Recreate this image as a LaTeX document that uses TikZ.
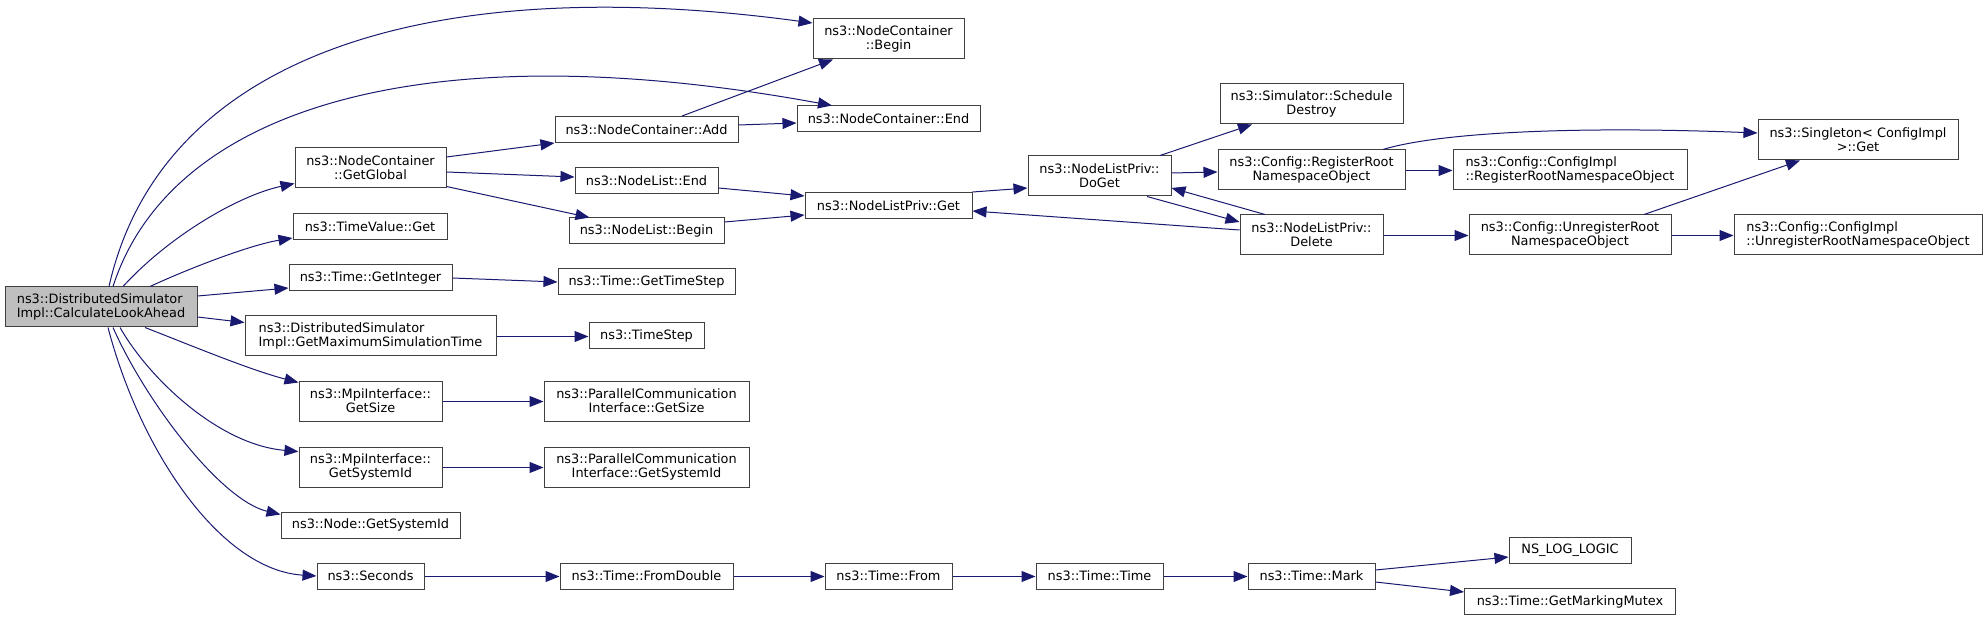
\documentclass[tikz,border=0pt]{standalone}
\usepackage{fontspec}
\setmainfont{DejaVu Sans}
\usetikzlibrary{arrows.meta,calc}
\definecolor{edgeblue}{HTML}{191970}
\definecolor{boxline}{HTML}{404040}
\definecolor{rootgray}{HTML}{BFBFBF}
\newcommand{\graphfont}{\fontsize{6.45pt}{7.15pt}\selectfont}

\begin{document}
\begin{tikzpicture}[x=0.5pt, y=-0.5pt, >={Triangle[length=7pt,width=5.5pt]},
  fn/.style={draw=boxline, fill=white, line width=0.5pt, inner sep=0pt, font=\graphfont, align=center, minimum height=13pt},
  fn2/.style={fn, minimum height=20pt},
  wd/.style={minimum width=#1*0.5pt},
  call/.style={edgeblue, line width=0.5pt, ->}]
\useasboundingbox (0,0) rectangle (1987,620);
\node[fn2, wd=192, fill=rootgray, align=left] (root) at (101,307) {ns3::DistributedSimulator\\Impl::CalculateLookAhead};
\node[fn2, wd=151] (gglobal) at (370.5,168) {ns3::NodeContainer\\::GetGlobal};
\node[fn, wd=154] (tvget) at (370,226.5) {ns3::TimeValue::Get};
\node[fn, wd=163] (getint) at (370.5,277.5) {ns3::Time::GetInteger};
\node[fn2, wd=251, align=left] (getmax) at (370.5,336) {ns3::DistributedSimulator\\Impl::GetMaximumSimulationTime};
\node[fn2, wd=143] (mpisize) at (370.5,401) {ns3::MpiInterface::\\GetSize};
\node[fn2, wd=143] (mpisys) at (370.5,467) {ns3::MpiInterface::\\GetSystemId};
\node[fn, wd=179] (nodesys) at (370.5,525) {ns3::Node::GetSystemId};
\node[fn, wd=107] (seconds) at (370.5,576) {ns3::Seconds};
\node[fn, wd=183] (ncadd) at (646.5,129.5) {ns3::NodeContainer::Add};
\node[fn, wd=143] (nlend) at (646.5,180.5) {ns3::NodeList::End};
\node[fn, wd=155] (nlbegin) at (646.5,231) {ns3::NodeList::Begin};
\node[fn, wd=177] (gettimestep) at (646.5,281.5) {ns3::Time::GetTimeStep};
\node[fn, wd=115] (timestep) at (646.5,336) {ns3::TimeStep};
\node[fn2, wd=205] (pcsize) at (646.5,401) {ns3::ParallelCommunication\\Interface::GetSize};
\node[fn2, wd=205] (pcsys) at (646.5,467) {ns3::ParallelCommunication\\Interface::GetSystemId};
\node[fn, wd=173] (fromdouble) at (646.5,576) {ns3::Time::FromDouble};
\node[fn2, wd=151] (ncbegin) at (888.5,39) {ns3::NodeContainer\\::Begin};
\node[fn, wd=183] (ncend) at (888.5,119) {ns3::NodeContainer::End};
\node[fn, wd=167] (nlpget) at (888.5,205.5) {ns3::NodeListPriv::Get};
\node[fn, wd=127] (from) at (888.5,576) {ns3::Time::From};
\node[fn2, wd=143] (doget) at (1099.5,176) {ns3::NodeListPriv::\\DoGet};
\node[fn, wd=127] (time) at (1099.5,576) {ns3::Time::Time};
\node[fn2, wd=183] (sched) at (1311.5,104) {ns3::Simulator::Schedule\\Destroy};
\node[fn2, wd=187] (regroot) at (1311.5,170) {ns3::Config::RegisterRoot\\NamespaceObject};
\node[fn2, wd=143] (delete) at (1311.5,235) {ns3::NodeListPriv::\\Delete};
\node[fn, wd=127] (mark) at (1311.5,576) {ns3::Time::Mark};
\node[fn2, wd=234, align=left] (cfgregroot) at (1570,170) {ns3::Config::ConfigImpl\\::RegisterRootNamespaceObject};
\node[fn2, wd=202] (unregroot) at (1570,235) {ns3::Config::UnregisterRoot\\NamespaceObject};
\node[fn, wd=122] (nslog) at (1570,550.5) {NS\_LOG\_LOGIC};
\node[fn, wd=211] (mutex) at (1570,601.5) {ns3::Time::GetMarkingMutex};
\node[fn2, wd=200] (singleton) at (1858,140) {ns3::Singleton< ConfigImpl\\ >::Get};
\node[fn2, wd=248, align=left] (cfgunreg) at (1858,235) {ns3::Config::ConfigImpl\\::UnregisterRootNamespaceObject};

\draw[call] ($(root.north)+(8,0)$) .. controls (160,60) and (420,-30) .. ($(ncbegin.west)+(0,-16)$);
\draw[call] ($(root.north)+(12,0)$) .. controls (170,110) and (420,30) .. ($(ncend.north)+(-56.5,0)$);
\draw[call] ($(root.north)+(22,0)$) .. controls (170,235) and (240,195) .. ($(gglobal.south west)+(0,-5)$);
\draw[call] ($(root.north)+(49,0)$) .. controls (190,268) and (250,245) .. ($(tvget.south west)+(0,-2)$);
\draw[call] ($(root.east)+(0,-11)$) -- ($(getint.south west)+(0,-3)$);
\draw[call] ($(root.east)+(0,10)$) -- ($(getmax.north west)+(0,7)$);
\draw[call] ($(root.south)+(44,0)$) .. controls (190,345) and (250,370) .. ($(mpisize.north west)+(0,2)$);
\draw[call] ($(root.south)+(19,0)$) .. controls (150,380) and (220,445) .. ($(mpisys.north west)+(0,5)$);
\draw[call] ($(root.south)+(12,0)$) .. controls (145,400) and (220,500) .. ($(nodesys.north west)+(0,3)$);
\draw[call] ($(root.south)+(7,0)$) .. controls (140,450) and (220,570) .. (seconds.west);
\draw[call] ($(gglobal.east)+(0,-11)$) -- (ncadd.south west);
\draw[call] ($(gglobal.east)+(0,4)$) -- ($(nlend.west)+(0,-3.5)$);
\draw[call] ($(gglobal.south east)+(0,-2)$) -- ($(nlbegin.north west)+(21,0)$);
\foreach \a/\b in {getint/gettimestep, getmax/timestep, mpisize/pcsize, mpisys/pcsys, seconds/fromdouble, fromdouble/from, from/time, time/mark, delete/unregroot, regroot/cfgregroot, unregroot/cfgunreg}
  \draw[call] ($(\a.east)+(0,0.5)$) -- ($(\b.west)+(0,0.5)$);
\draw[call] ($(ncadd.north)+(35.5,0)$) -- ($(ncbegin.south)+(-55.5,0)$);
\draw[call] ($(ncadd.east)+(0,-4.5)$) -- ($(ncend.west)+(0,4)$);
\draw[call] ($(nlend.east)+(0,7.5)$) -- ($(nlpget.west)+(0,-9.5)$);
\draw[call] ($(nlbegin.east)+(0,-9)$) -- ($(nlpget.west)+(0,9.5)$);
\draw[call] (nlpget.north east) -- ($(doget.west)+(0,12)$);
\draw[call] ($(delete.west)+(0,-5)$) -- ($(nlpget.east)+(0,5.5)$);
\draw[call] ($(doget.north)+(60.5,0)$) -- ($(sched.south)+(-59.5,0)$);
\draw[call] ($(doget.east)+(0,-3)$) -- ($(regroot.west)+(0,2)$);
\draw[call] ($(doget.south)+(47.5,0)$) -- ($(delete.west)+(0,-13)$);
\draw[call] ($(delete.north)+(-46.5,0)$) -- ($(doget.east)+(0,12)$);
\draw[call] ($(regroot.north)+(71.5,0)$) .. controls (1430,135) and (1550,125) .. ($(singleton.west)+(0,-7)$);
\draw[call] ($(unregroot.north)+(74,0)$) -- ($(singleton.south)+(-58,0)$);
\draw[call] ($(mark.east)+(0,-6)$) -- ($(nslog.west)+(0,6.5)$);
\draw[call] ($(mark.east)+(0,6)$) -- ($(mutex.west)+(0,-9.5)$);
\end{tikzpicture}
\end{document}
